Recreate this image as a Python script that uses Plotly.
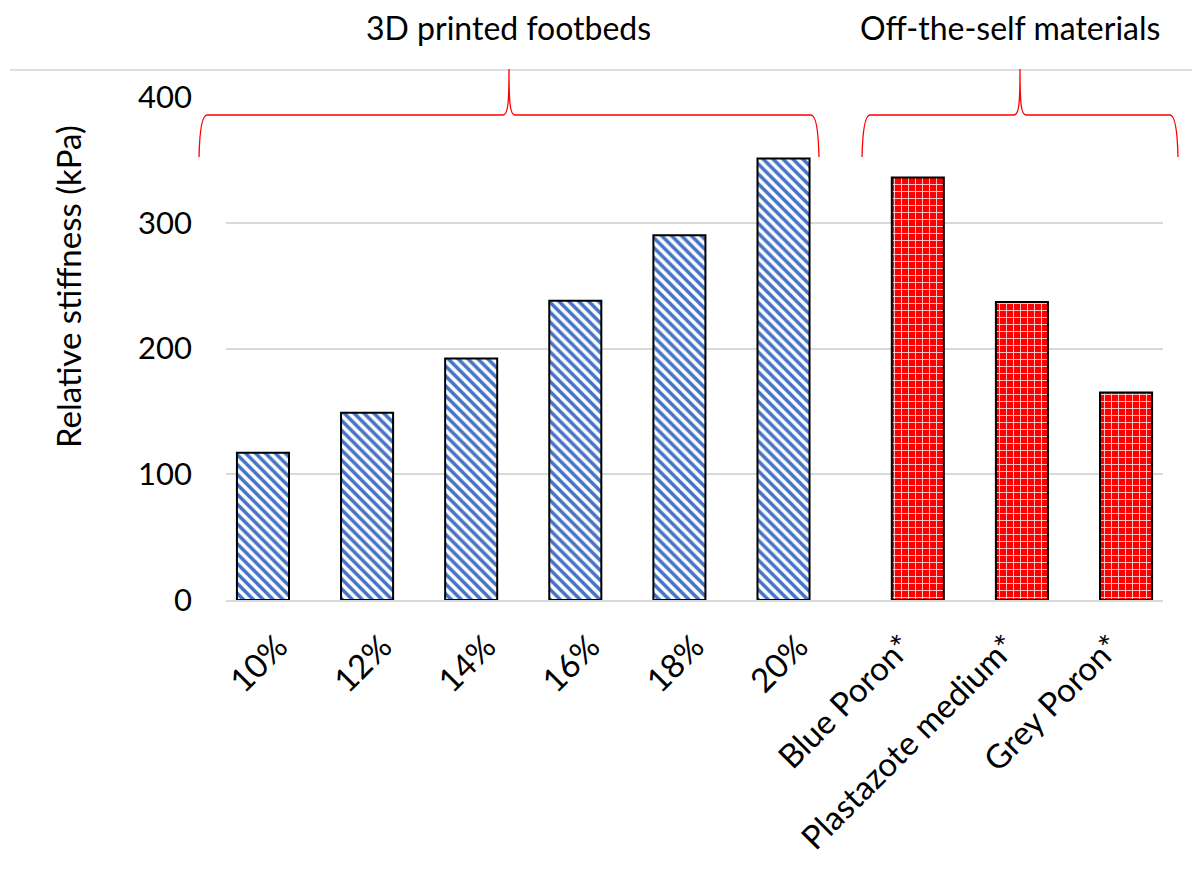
import plotly.graph_objects as go

# Relative stiffness of printed footbeds (by infill) and reference foams
printed_labels = ["10%", "12%", "14%", "16%", "18%", "20%"]
printed_values = [117, 149, 192, 238, 290, 351]
foam_labels = ["Blue Poron*", "Plastazote medium*", "Grey Poron*"]
foam_values = [336, 237, 165]
y_ticks = [0, 100, 200, 300, 400]

W, H = 1192, 870
ML, MR, MT, MB = 226, 29, 97, 270
PW, PH = W - ML - MR, H - MT - MB

font = "Lato"

fig = go.Figure()
# two series share the category axis; each bar is nudged off the category centre
fig.add_trace(go.Bar(
    x=printed_labels, y=printed_values, width=0.5, offset=-0.395,
    marker=dict(
        color="white",
        line=dict(color="black", width=2),
        pattern=dict(shape="\\", fgcolor="#4472C4", bgcolor="white",
                     fillmode="replace", fgopacity=1,
                     size=7, solidity=0.5),
    ),
    showlegend=False,
))
fig.add_trace(go.Bar(
    x=foam_labels, y=foam_values, width=0.5, offset=-0.105,
    marker=dict(
        color="red",
        line=dict(color="black", width=2),
        pattern=dict(shape="+", fgcolor="white", bgcolor="red",
                     fillmode="replace", fgopacity=0.8,
                     size=7, solidity=0.25),
    ),
    showlegend=False,
))


def px(x):
    return (x - ML) / PW


def py(y):
    return (H - MB - y) / PH


def brace(x0, x1, xm, y_bot, y_bar, y_peak):
    a, b, m = px(x0), px(x1), px(xm)
    yb, yh, yp = py(y_bot), py(y_bar), py(y_peak)
    r = 8 / PW
    k = 6 / PW
    return (
        f"M {a},{yb} Q {a + 1 / PW},{yh} {a + r},{yh} "
        f"L {m - k},{yh} C {m - 1 / PW},{yh} {m},{py(y_bar - 12)} {m},{yp} "
        f"C {m},{py(y_bar - 12)} {m + 1 / PW},{yh} {m + k},{yh} "
        f"L {b - r},{yh} Q {b - 1 / PW},{yh} {b},{yb}"
    )


shapes = [
    # thin rule across the top
    dict(type="line", xref="paper", yref="paper", x0=px(10), x1=px(W),
         y0=py(70), y1=py(70), line=dict(color="#bfbfbf", width=1)),
    dict(type="path", xref="paper", yref="paper",
         path=brace(199, 819, 509, 157, 115, 69),
         line=dict(color="#ff0000", width=1.3)),
    dict(type="path", xref="paper", yref="paper",
         path=brace(862, 1178, 1020, 157, 115, 69),
         line=dict(color="#ff0000", width=1.3)),
]

annotations = [
    dict(text="3D printed footbeds", xref="paper", yref="paper",
         x=px(508), y=py(28), showarrow=False, xanchor="center", yanchor="middle",
         font=dict(family=font, size=32, color="black")),
    dict(text="Off-the-self materials", xref="paper", yref="paper",
         x=px(1010), y=py(28), showarrow=False, xanchor="center", yanchor="middle",
         font=dict(family=font, size=32, color="black")),
    # y-axis title, placed a little above the plot's vertical middle
    dict(text="Relative stiffness (kPa)", xref="paper", yref="paper",
         x=px(68), y=py(287), showarrow=False, textangle=-90,
         xanchor="center", yanchor="middle",
         font=dict(family=font, size=33, color="black")),
]

fig.update_layout(
    width=W, height=H,
    margin=dict(l=ML, r=MR, t=MT, b=MB, pad=0),
    paper_bgcolor="white", plot_bgcolor="white",
    font=dict(family=font, size=30, color="black"),
    shapes=shapes, annotations=annotations,
    xaxis=dict(
        type="category",
        categoryorder="array",
        categoryarray=printed_labels + foam_labels,
        range=[-0.5, 8.5],
        tickangle=-45,
        showgrid=False, zeroline=False,
        showline=True, linecolor="#d9d9d9", linewidth=2,
        ticks="outside", ticklen=12, tickcolor="rgba(0,0,0,0)",
        tickfont=dict(family=font, size=33),
    ),
    yaxis=dict(
        range=[0, 400],
        tickvals=y_ticks,
        showgrid=True, gridcolor="#d9d9d9", gridwidth=1.5,
        zeroline=False, showline=False, ticks="",
        ticklabelstandoff=33,
        tickfont=dict(family=font, size=31),
    ),
)

fig.write_html("out.html")
